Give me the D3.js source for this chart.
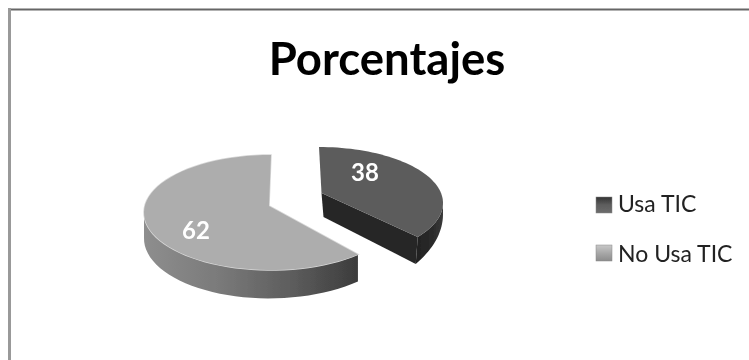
<!DOCTYPE html>
<html><head><meta charset="utf-8">
<script src="https://cdn.jsdelivr.net/npm/d3@7"></script>
<style>html,body{margin:0;background:#fff}svg{display:block}text{font-family:Lato,"Open Sans",sans-serif}</style>
</head><body><svg id="c" width="749" height="360"></svg>
<script>
const categories = ["Usa TIC", "No Usa TIC"];
const values = [38, 62];
const titleText = "Porcentajes";

const svg = d3.select("#c");
const defs = svg.append("defs");
const blur = defs.append("filter").attr("id","soft").attr("filterUnits","userSpaceOnUse").attr("x",0).attr("y",0).attr("width",749).attr("height",360);
blur.append("feGaussianBlur").attr("stdDeviation",0.7);

function grad(id, stops, x1=0, x2=1, y1=0, y2=0){
  const g = defs.append("linearGradient").attr("id",id).attr("x1",x1).attr("x2",x2).attr("y1",y1).attr("y2",y2);
  stops.forEach(([o,c])=>g.append("stop").attr("offset",o).attr("stop-color",c));
}
grad("wallLight",[[0,"#8e8e8e"],[0.35,"#7a7a7a"],[0.7,"#5c5c5c"],[1,"#3c3c3c"]]);
grad("wallDark",[[0,"#222"],[0.6,"#2a2a2a"],[1,"#3a3a3a"]]);
grad("legA",[[0,"#333"],[0.5,"#5e5e5e"],[1,"#6c6c6c"]],0,0,0,1);
grad("legB",[[0,"#c8c8c8"],[0.5,"#a8a8a8"],[1,"#8c8c8c"]],0,0,0,1);

const root = svg.append("g").attr("filter","url(#soft)");

// frame: the picture is cropped, only the top and left edges show
root.append("line").attr("x1",9).attr("x2",749).attr("y1",9.5).attr("y2",9.5).attr("stroke","#666").attr("stroke-width",2);
root.append("line").attr("x1",9.5).attr("x2",9.5).attr("y1",8).attr("y2",360).attr("stroke","#999").attr("stroke-width",3);

const pie = d3.pie().sort(null).startAngle(0).endAngle(2*Math.PI);
const arcs = pie(values);

// look of each slice: ellipse, apex, extrusion and the apparent sweep of its far edge
const looks = [
  {cx:319, cy:203, rx:124, ry:56, ax:321.5, ay:193, d0:13, d1:27, warp:0.93, top:"#5c5c5c", wall:"url(#wallDark)", inner:"#262626"},
  {cx:271, cy:212.5, rx:127, ry:57.5, ax:269, ay:206, d0:27, d1:26, warp:1, top:"#adadad", wall:"url(#wallLight)", inner:"#6a6a6a"}
];

function pts(a, l){
  const w = a.index===0 ? l.warp : 1;
  const s = a.startAngle*w, e = a.endAngle*w;
  return d3.range(0,61).map(i=>{
    const t = s+(e-s)*i/60;
    return [l.cx+l.rx*Math.sin(t), l.cy-l.ry*Math.cos(t)];
  });
}
const line = d3.line();

arcs.slice().reverse().forEach(a=>{
  const l = looks[a.index], p = pts(a,l);
  const near = p.filter(d=>d[1]>=l.cy-1);
  const lower = near.map((d,i)=>{
    const k = i/(near.length-1);
    const bulge = a.index===1 ? 2*Math.sin(Math.PI*k) : 0;
    return [d[0]-(a.index===0?2*k:0), d[1]+l.d0+(l.d1-l.d0)*k+bulge];
  });
  const wall = near.concat(lower.slice().reverse());
  if(a.index===0){
    const end = p[p.length-1], low = lower[lower.length-1];
    root.append("path").attr("d",line([[l.ax,l.ay],end,low,[l.ax+2,l.ay+24]])+"Z").attr("fill",l.inner);
  }
  root.append("path").attr("d",line(wall)+"Z").attr("fill",l.wall);
  if(a.index===1){
    root.append("path").attr("d",line(p)+"L"+l.ax+","+l.ay+"Z").attr("fill","none").attr("stroke","#d8d8d8").attr("stroke-width",1.5);
  }
  root.append("path").attr("d",line(p)+"L"+l.ax+","+l.ay+"Z").attr("fill",l.top);
});

const labelPos = [[365,181],[196,239]];
root.selectAll("text.val").data(values).join("text").attr("class","val")
  .attr("x",(d,i)=>labelPos[i][0]).attr("y",(d,i)=>labelPos[i][1])
  .attr("text-anchor","middle").attr("font-size",24).attr("font-weight",700).attr("fill","#fff").text(d=>d);

root.append("text").attr("x",387).attr("y",75).attr("text-anchor","middle")
  .attr("font-size",45.5).attr("font-weight",700).attr("fill","#000").text(titleText);

const legendY = d3.scalePoint().domain(categories).range([205,253]);
const leg = root.selectAll("g.leg").data(categories).join("g").attr("class","leg")
  .attr("transform",d=>`translate(596,${legendY(d)})`);
leg.append("rect").attr("x",0).attr("y",-8).attr("width",16).attr("height",16)
  .attr("fill",(d,i)=>i?"url(#legB)":"url(#legA)").attr("stroke","#888").attr("stroke-width",0.5);
leg.append("text").attr("x",22).attr("y",(d,i)=>i?8.5:7).attr("font-size",23).attr("fill","#222").text(d=>d);
</script></body></html>
